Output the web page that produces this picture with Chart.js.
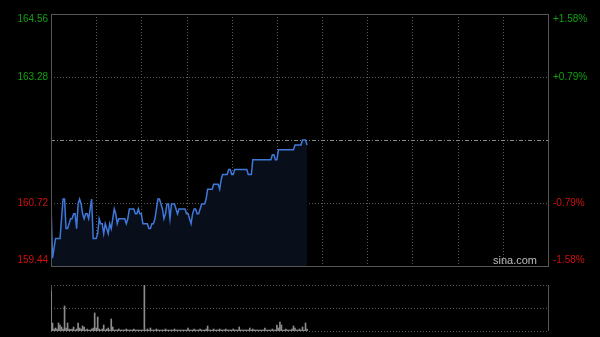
<!DOCTYPE html>
<html><head><meta charset="utf-8">
<script src="https://cdn.jsdelivr.net/npm/chart.js@4.4.1/dist/chart.umd.min.js"></script>
<style>
html,body{margin:0;padding:0;background:#000;overflow:hidden;width:600px;height:337px}
#c1{position:absolute;left:0;top:0}
#c2{position:absolute;left:0;top:272px}
</style>
</head><body>
<canvas id="c1" width="600" height="272"></canvas>
<canvas id="c2" width="600" height="65"></canvas>
<script>
const prevClose = 162.00;
const priceTicks = [164.56, 163.28, 162.00, 160.72, 159.44];
const priceLabels = ['164.56', '163.28', '', '160.72', '159.44'];
const pctLabels = ['+1.58%', '+0.79%', '', '-0.79%', '-1.58%'];
const totalMinutes = 330;
const gridEvery = 30;
const watermark = 'sina.com';

const prices = [
  160.7,159.6,159.8,160.0,160.0,160.0,160.0,160.4,160.8,160.8,
  160.2,160.2,160.3,160.4,160.4,160.5,160.5,160.2,160.7,160.8,
  160.7,160.5,160.4,160.5,160.5,160.4,160.6,160.8,160.0,160.0,
  160.0,160.1,160.4,160.3,160.3,160.1,160.3,160.2,160.1,160.3,
  160.2,160.4,160.6,160.5,160.3,160.4,160.4,160.4,160.4,160.4,
  160.3,160.4,160.6,160.6,160.6,160.6,160.5,160.5,160.6,160.5,
  160.5,160.3,160.3,160.3,160.3,160.2,160.2,160.3,160.3,160.4,
  160.6,160.8,160.8,160.7,160.6,160.4,160.5,160.7,160.7,160.4,
  160.7,160.7,160.7,160.6,160.5,160.6,160.6,160.6,160.6,160.6,
  160.5,160.5,160.4,160.3,160.5,160.6,160.6,160.5,160.5,160.6,
  160.7,160.7,160.7,160.8,161.0,161.0,161.0,161.0,161.1,161.1,
  161.1,161.1,161.0,161.2,161.3,161.3,161.3,161.3,161.4,161.4,
  161.3,161.3,161.4,161.4,161.4,161.4,161.4,161.4,161.4,161.4,
  161.4,161.3,161.3,161.3,161.6,161.6,161.6,161.6,161.6,161.6,
  161.6,161.6,161.6,161.6,161.6,161.6,161.6,161.7,161.7,161.6,
  161.6,161.8,161.8,161.8,161.8,161.8,161.8,161.8,161.8,161.8,
  161.8,161.8,161.9,161.9,161.9,161.9,161.9,162.0,162.0,162.0,
  161.9
];

const volumes = [
  40,8,2,3,2,8,6,4,2,25,
  3,8,2,1.5,2,4,1,2,8,3,
  2,5,4,1,2,1,1,2,3,18,
  3,14,2,1,2,6,1,2,3,1,
  12,4,1,1,1,2,1,1,1,1,
  2,1,1,1,1,2,1,1,1,1,
  1,1,46,1,2,1,3,1,1,1,
  2,1,1,1,1,1,2,1,1,1,
  1,1,2,1,1,1,1,1,1,1,
  1,3,1,1,1,2,1,1,1,2,
  1,1,1,2,5,1,1,1,2,1,
  1,1,2,1,1,1,2,1,1,1,
  1,2,1,1,1,4,1,1,1,1,
  1,1,3,1,2,1,1,1,1,1,
  1,1,3,1,1,1,1,2,1,1,
  6,3,9,6,1,1,2,1,1,1,
  2,5,3,1,1,2,1,4,1,8,
  2
];
const volumeMax = 46;

const GREEN = '#12a012', RED = '#d01010';
const FONT = '10px "Liberation Sans", Arial, sans-serif';

function hline(ctx, x1, x2, y) { ctx.beginPath(); ctx.moveTo(x1, y); ctx.lineTo(x2, y); ctx.stroke(); }
function vline(ctx, x, y1, y2) { ctx.beginPath(); ctx.moveTo(x, y1); ctx.lineTo(x, y2); ctx.stroke(); }

const mainFrame = {
  id: 'mainFrame',
  beforeDatasetsDraw(chart) {
    const { ctx, chartArea: a, scales } = chart;
    ctx.save();
    ctx.lineWidth = 1;
    ctx.strokeStyle = '#5a5a5a';
    ctx.setLineDash([1, 2]);
    for (let m = gridEvery; m < totalMinutes; m += gridEvery) {
      const x = Math.round(scales.x.getPixelForValue(m)) + 0.5;
      vline(ctx, x, a.top, a.bottom);
    }
    [1, 3].forEach(i => {
      const y = Math.round(scales.y.getPixelForValue(priceTicks[i])) + 0.5;
      hline(ctx, a.left, a.right, y);
    });
    ctx.strokeStyle = '#8a8a8a';
    ctx.setLineDash([4, 2, 1, 2]);
    const ym = Math.round(scales.y.getPixelForValue(prevClose)) + 0.5;
    hline(ctx, a.left, a.right, ym);
    ctx.restore();
  },
  afterDraw(chart) {
    const { ctx, chartArea: a, scales } = chart;
    ctx.save();
    ctx.strokeStyle = '#555';
    ctx.lineWidth = 1;
    ctx.setLineDash([]);
    ctx.strokeRect(Math.round(a.left) + 0.5, Math.round(a.top) + 0.5, Math.round(a.right - a.left), Math.round(a.bottom - a.top));
    ctx.font = FONT;
    ctx.textBaseline = 'middle';
    priceTicks.forEach((v, i) => {
      if (!priceLabels[i]) return;
      let y = scales.y.getPixelForValue(v);
      if (i === 0) y += 5;
      if (i === priceTicks.length - 1) y -= 5.5;
      ctx.fillStyle = v > prevClose ? GREEN : RED;
      ctx.textAlign = 'right';
      ctx.fillText(priceLabels[i], a.left - 3, y);
      ctx.textAlign = 'left';
      ctx.fillText(pctLabels[i], a.right + 5, y);
    });
    ctx.fillStyle = '#bdbdbd';
    ctx.textAlign = 'right';
    ctx.font = '11px "Liberation Sans", Arial, sans-serif';
    ctx.fillText(watermark, a.right - 11, a.bottom - 5);
    ctx.restore();
  }
};

const volFrame = {
  id: 'volFrame',
  beforeDatasetsDraw(chart) {
    const { ctx, chartArea: a, scales } = chart;
    ctx.save();
    ctx.lineWidth = 1;
    ctx.strokeStyle = '#5a5a5a';
    ctx.setLineDash([1, 2]);
    [0, volumeMax / 2, volumeMax].forEach(v => {
      const y = Math.round(scales.y.getPixelForValue(v)) + 0.5;
      hline(ctx, a.left, a.right, y);
    });
    ctx.setLineDash([]);
    ctx.strokeStyle = '#555';
    vline(ctx, Math.round(a.left) + 0.5, a.top, a.bottom);
    vline(ctx, Math.round(a.right) + 0.5, a.top, a.bottom);
    ctx.restore();
  }
};

new Chart(document.getElementById('c1'), {
  type: 'line',
  data: {
    datasets: [{
      data: prices.map((p, i) => ({ x: i, y: p })),
      borderColor: '#3f78d8',
      borderWidth: 1.5,
      backgroundColor: '#090e1b',
      fill: 'start',
      pointRadius: 0,
      tension: 0
    }]
  },
  options: {
    responsive: false,
    animation: false,
    layout: { padding: { left: 51, right: 52, top: 14, bottom: 6 } },
    plugins: { legend: { display: false }, tooltip: { enabled: false } },
    scales: {
      x: { type: 'linear', min: 0, max: totalMinutes, display: false },
      y: { min: priceTicks[priceTicks.length - 1], max: priceTicks[0], display: false }
    }
  },
  plugins: [mainFrame]
});

new Chart(document.getElementById('c2'), {
  type: 'bar',
  data: {
    datasets: [{
      data: volumes.map((v, i) => ({ x: i, y: v })),
      backgroundColor: '#8c8c8c',
      barThickness: 1,
      borderWidth: 0
    }]
  },
  options: {
    responsive: false,
    animation: false,
    layout: { padding: { left: 51, right: 52, top: 13, bottom: 6 } },
    plugins: { legend: { display: false }, tooltip: { enabled: false } },
    scales: {
      x: { type: 'linear', min: 0, max: totalMinutes, display: false, offset: false },
      y: { min: 0, max: volumeMax, display: false }
    }
  },
  plugins: [volFrame]
});
</script>
</body></html>
